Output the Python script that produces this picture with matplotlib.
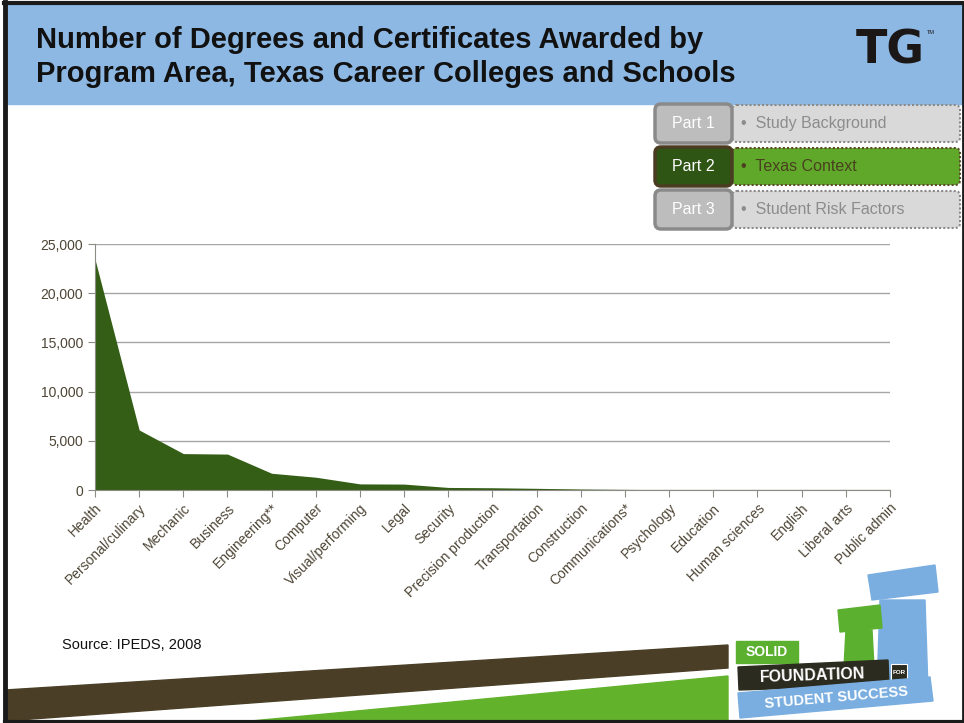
import numpy as np
import matplotlib.pyplot as plt
from matplotlib.patches import Rectangle, FancyBboxPatch, Polygon

plt.rcParams['font.family'] = ['Liberation Sans', 'DejaVu Sans']

programs = ["Health", "Personal/culinary", "Mechanic", "Business", "Engineering**",
            "Computer", "Visual/performing", "Legal", "Security", "Precision production",
            "Transportation", "Construction", "Communications*", "Psychology", "Education",
            "Human sciences", "English", "Liberal arts", "Public admin"]
awards = [23450, 6100, 3700, 3650, 1700, 1300, 620, 600, 260, 230,
          170, 100, 60, 30, 15, 10, 6, 4, 2]
y_ticks = [0, 5000, 10000, 15000, 20000, 25000]

parts = ["Part 1", "Part 2", "Part 3"]
part_topics = ["Study Background", "Texas Context", "Student Risk Factors"]

W, H = 964, 723
fig = plt.figure(figsize=(W / 100, H / 100), dpi=100)

# background layer in pixel coords
bg = fig.add_axes([0, 0, 1, 1])
bg.set_xlim(0, W)
bg.set_ylim(H, 0)
bg.axis("off")

bg.add_patch(Rectangle((0, 0), W, H, color="white", zorder=0))
bg.add_patch(Rectangle((5, 4), W - 5, 100, color="#8db8e3", zorder=1))
# slide border
bg.plot([5, 5], [2, H], color="#1a1a1a", lw=3.5, zorder=5)
bg.plot([4, W], [3, 3], color="#1a1a1a", lw=3, zorder=5)
bg.plot([W - 1, W - 1], [2, H], color="#1a1a1a", lw=2, zorder=5)

bg.text(36, 40, "Number of Degrees and Certificates Awarded by", fontsize=21,
        fontweight="bold", va="center", ha="left", color="#111111", zorder=3)
bg.text(36, 74, "Program Area, Texas Career Colleges and Schools", fontsize=21,
        fontweight="bold", va="center", ha="left", color="#111111", zorder=3)
bg.text(890, 51, "TG", fontsize=33, fontweight="heavy", va="center", ha="center",
        color="#1b1717", zorder=3, family="DejaVu Sans")
bg.text(931, 33, "TM", fontsize=4, va="center", ha="center", color="#1b1717", zorder=3)

# part navigation boxes
left_fill = ["#bdbdbd", "#2f5514", "#bdbdbd"]
left_edge = ["#8a8a8a", "#4a3c22", "#8a8a8a"]
right_fill = ["#d9d9d9", "#60a82a", "#d9d9d9"]
right_edge = ["#8a8a8a", "#5a4a2a", "#8a8a8a"]
topic_col = ["#8c8c8c", "#4a4020", "#8c8c8c"]
tops = [104, 147, 190]
for i in range(3):
    y0 = tops[i]
    bg.add_patch(FancyBboxPatch((732, y0 + 1), 228, 37, boxstyle="round,pad=0,rounding_size=5",
                                fc=right_fill[i], ec=right_edge[i], lw=1.5, ls=(0, (1, 1)), zorder=3))
    bg.add_patch(FancyBboxPatch((655, y0), 77, 39, boxstyle="round,pad=0,rounding_size=6",
                                fc=left_fill[i], ec=left_edge[i], lw=2.5, zorder=4))
    bg.text(693.5, y0 + 19.5, parts[i], fontsize=11.5, color="white", ha="center",
            va="center", zorder=5)
    bg.text(741, y0 + 19.5, "\u2022  " + part_topics[i], fontsize=11.5, color=topic_col[i],
            ha="left", va="center", zorder=5)

bg.text(62, 645, "Source: IPEDS, 2008", fontsize=10.5, color="#111111", va="center", zorder=3)

# bottom swoosh
bg.add_patch(Polygon([[5, 690], [728, 645], [728, 668], [5, 721]], closed=True,
                     color="#4a3f26", zorder=2))
bg.add_patch(Polygon([[230, H], [728, 676], [728, H]], closed=True,
                     color="#62b22c", zorder=2))
bg.plot([5, W], [H - 1.5, H - 1.5], color="#1a1a1a", lw=3, zorder=5)

# logo columns
bg.add_patch(Polygon([[880, 600], [925, 600], [928, 690], [877, 690]], closed=True,
                     color="#7aaee0", zorder=3))
bg.add_patch(Polygon([[868, 575], [935, 565], [938, 592], [872, 600]], closed=True,
                     color="#7aaee0", zorder=3))
bg.add_patch(Polygon([[846, 630], [872, 630], [874, 668], [844, 668]], closed=True,
                     color="#5cb030", zorder=3))
bg.add_patch(Polygon([[838, 610], [880, 605], [882, 628], [840, 632]], closed=True,
                     color="#5cb030", zorder=3))
# logo text boxes
bg.add_patch(Rectangle((736, 641), 62, 22, color="#5cb030", zorder=4))
bg.text(767, 652, "SOLID", fontsize=10, fontweight="bold", color="white",
        ha="center", va="center", zorder=5)
bg.add_patch(Polygon([[738, 667], [888, 660], [889, 685], [739, 690]], closed=True,
                     color="#2b2b1f", zorder=4))
bg.text(812, 676, "FOUNDATION", fontsize=11.5, fontweight="bold", color="white",
        ha="center", va="center", rotation=2, zorder=5)
bg.add_patch(Rectangle((891, 664), 16, 16, fc="#2b2b1f", ec="white", lw=0.8, zorder=4))
bg.text(899, 672, "FOR", fontsize=4.5, fontweight="bold", color="white",
        ha="center", va="center", zorder=5)
bg.add_patch(Polygon([[738, 693], [930, 677], [933, 701], [740, 718]], closed=True,
                     color="#7aaee0", zorder=4))
bg.text(836, 698, "STUDENT SUCCESS", fontsize=10.5, fontweight="bold", color="white",
        ha="center", va="center", rotation=5, zorder=5)

# chart
ax = fig.add_axes([95 / W, 1 - 490 / H, (890 - 95) / W, (490 - 244) / H])
ax.patch.set_alpha(0)
x = np.arange(len(programs))
ax.fill_between(x, awards, 0, color="#345e16", lw=0, zorder=3)
ax.set_xlim(0, len(programs) - 1)
ax.set_ylim(0, 25000)
ax.set_yticks(y_ticks)
ax.set_yticklabels([f"{v:,}" for v in y_ticks])
ax.set_xticks(x)
ax.set_xticklabels(programs, rotation=45, ha="right", rotation_mode="anchor")
ax.grid(axis="y", color="#a6a6a6", lw=1, zorder=1)
for s in ["top", "right"]:
    ax.spines[s].set_visible(False)
for s in ["left", "bottom"]:
    ax.spines[s].set_color("#8c8c84")
    ax.spines[s].set_zorder(4)
ax.tick_params(axis="both", colors="#8c8c84", labelcolor="#4d4535", labelsize=10,
               length=5, direction="out")
ax.tick_params(axis="x", pad=3)

fig.savefig("out.png", dpi=100)
